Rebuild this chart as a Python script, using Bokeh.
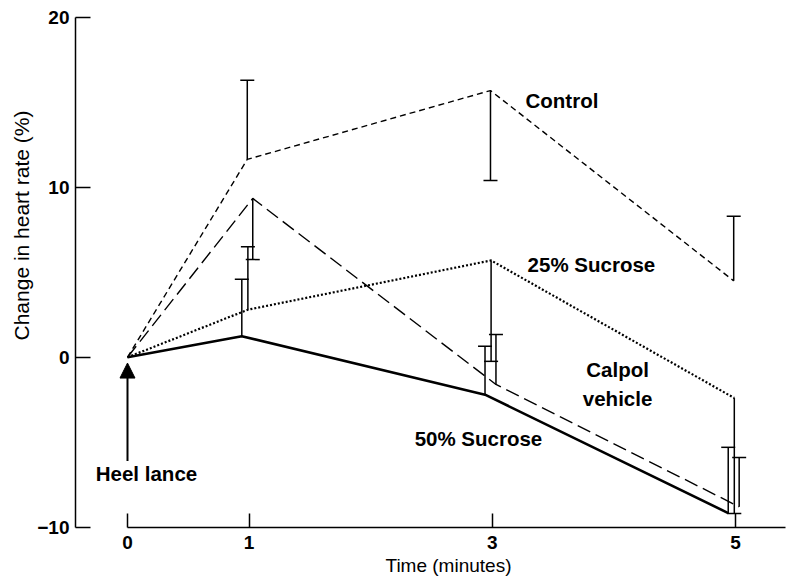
from bokeh.plotting import figure
from bokeh.models import Range1d, FixedTicker, Label, Arrow, NormalHead, Title
from bokeh.embed import file_html
from bokeh.resources import INLINE

# ---- data ----
minutes = [0, 1, 3, 5]
x_tick_labels = ["0", "1", "3", "5"]
y_ticks = [-10, 0, 10, 20]

control = [0, 11.65, 15.7, 4.5]
control_se = [0, 4.65, 5.3, 3.8]
control_dir = [0, 1, -1, 1]

sucrose25 = [0, 2.8, 5.7, -2.4]
sucrose25_se = [0, 3.7, 5.94, 6.8]
sucrose25_dir = [0, 1, -1, -1]

calpol = [0, 9.35, -1.6, -8.8]
calpol_se = [0, 3.6, 2.94, 2.9]
calpol_dir = [0, -1, 1, 1]

sucrose50 = [0, 1.24, -2.2, -9.17]
sucrose50_se = [0, 3.36, 2.85, 3.87]
sucrose50_dir = [0, 1, 1, 1]

FONT = "Liberation Sans"

p = figure(width=787, height=583, output_backend="svg", toolbar_location=None,
           x_range=Range1d(-0.4276, 5.411), y_range=Range1d(-10.02, 20),
           min_border_left=75, min_border_right=2, min_border_top=17,
           min_border_bottom=56)
p.outline_line_color = None
p.grid.visible = False
p.background_fill_color = "white"
p.border_fill_color = "white"

# axes
xa = p.xaxis[0]
xa.ticker = FixedTicker(ticks=minutes)
xa.major_label_overrides = {m: l for m, l in zip(minutes, x_tick_labels)}
xa.bounds = (0, 5.411)
xa.major_tick_in = 14
xa.major_tick_out = 0
xa.minor_tick_line_color = None
xa.axis_line_width = 1.5
xa.major_tick_line_width = 1.5
xa.major_label_standoff = 8
xa.major_label_text_font = FONT
xa.major_label_text_font_style = "bold"
xa.major_label_text_font_size = "19px"
xa.major_label_text_color = "black"

ya = p.yaxis[0]
ya.ticker = FixedTicker(ticks=y_ticks)
ya.major_label_overrides = {-10: "\u221210"}
ya.major_tick_in = 15
ya.major_tick_out = 0
ya.minor_tick_line_color = None
ya.axis_line_width = 1.5
ya.major_tick_line_width = 1.5
ya.major_label_standoff = 6
ya.major_label_text_font = FONT
ya.major_label_text_font_style = "bold"
ya.major_label_text_font_size = "19px"
ya.major_label_text_color = "black"

# axis titles
p.add_layout(Title(text="Change in heart rate (%)", align="left", offset=187,
                   text_font=FONT, text_font_size="21px", text_font_style="normal",
                   text_color="black", standoff=4), "left")
p.add_layout(Title(text="Time (minutes)", align="left", offset=310,
                   text_font=FONT, text_font_size="19px", text_font_style="normal",
                   text_color="black", standoff=2), "below")

series = [
    (control, control_se, control_dir, -0.015, dict(line_dash="6 4", line_width=1.4)),
    (sucrose25, sucrose25_se, sucrose25_dir, -0.01, dict(line_dash="2 2", line_width=2.2)),
    (calpol, calpol_se, calpol_dir, 0.03, dict(line_dash="14 6", line_width=1.4)),
    (sucrose50, sucrose50_se, sucrose50_dir, -0.06, dict(line_width=2.6)),
]

for vals, se, d, off, style in series:
    xs = [m + (off if m else 0) for m in minutes]
    p.line(xs, vals, line_color="black", **style)
    ex = xs[1:]
    y0 = vals[1:]
    y1 = [v + s * k for v, s, k in zip(vals[1:], se[1:], d[1:])]
    p.segment(ex, y0, ex, y1, line_color="black", line_width=1.5)
    p.scatter(ex, y1, marker="dash", size=14, line_color="black", line_width=1.5)

# heel lance arrow
p.add_layout(Arrow(end=NormalHead(size=15, fill_color="black", line_color="black"),
                   x_start=0, y_start=-6.1, x_end=0, y_end=-0.34,
                   line_color="black", line_width=2))

def lab(x, y, t, size="20.5px", style="bold", align="left"):
    p.add_layout(Label(x=x, y=y, text=t, text_font=FONT, text_font_size=size,
                       text_font_style=style, text_align=align,
                       text_baseline="middle", text_color="black"))

lab(3.273, 15.1, "Control")
lab(3.29, 5.44, "25% Sucrose")
lab(4.03, -0.7, "Calpol", align="center")
lab(4.03, -2.4, "vehicle", align="center")
lab(2.886, -4.81, "50% Sucrose", align="center")
lab(0.156, -6.87, "Heel lance", align="center")

open("out.html", "w").write(file_html(p, INLINE))
